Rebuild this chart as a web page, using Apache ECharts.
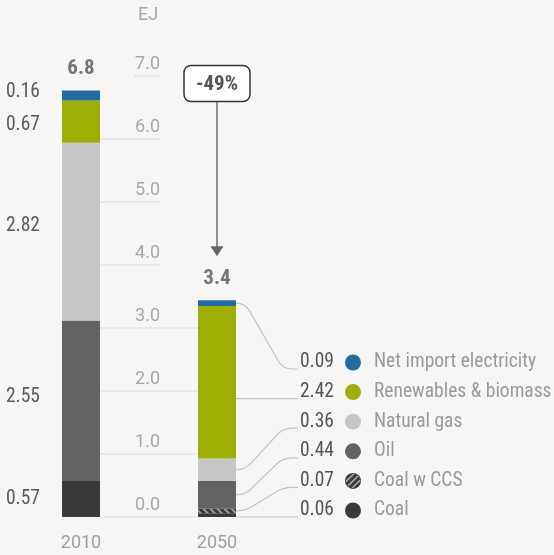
<!DOCTYPE html>
<html><head><meta charset="utf-8">
<script src="https://cdn.jsdelivr.net/npm/echarts@6/dist/echarts.min.js"></script>
<style>html,body{margin:0;padding:0;background:#f6f6f6}#c{width:554px;height:555px}</style>
</head><body><div id="c"></div>
<script>
// ---- data ----
const categories = ['2010', '2050'];
const seriesNames = ['Coal', 'Coal w CCS', 'Oil', 'Natural gas', 'Renewables & biomass', 'Net import electricity'];
const coal = [0.57, 0.06];
const coalCCS = [0, 0.07];
const oil = [2.55, 0.44];
const gas = [2.82, 0.36];
const renew = [0.67, 2.42];
const netImport = [0.16, 0.09];
const yTicks = [0, 1, 2, 3, 4, 5, 6, 7];
const changeLabel = '-49%';
const unitLabel = 'EJ';

// ---- style ----
const colors = ['#3a3a38', '#3a3a38', '#636363', '#c6c6c6', '#9dae05', '#236ba0'];
const labelOffsets = [[0, 0], [0, 0], [0, -4], [0, -5], [0, 3], [0, -3]];
const COND = '"Liberation Sans Narrow","Roboto Condensed","DejaVu Sans Condensed",Roboto,sans-serif';
const REG = 'Roboto,"Liberation Sans",sans-serif';
const BARW = 38;
const FS = 19.5;

const values = [coal, coalCCS, oil, gas, renew, netImport];
const totals = categories.map((c, i) => values.reduce((s, v) => s + v[i], 0));

const chart = echarts.init(document.getElementById('c'), null, {renderer: 'canvas'});

const barSeries = seriesNames.map((name, k) => {
  const itemStyle = {color: colors[k]};
  if (k === 1) {
    itemStyle.decal = {color: '#9a9a9a', symbol: 'rect', symbolSize: 1, dashArrayX: [1, 0], dashArrayY: [2, 3], rotation: Math.PI / 4};
  }
  return {
    name, type: 'bar', stack: 'total', barWidth: BARW, data: values[k], itemStyle, silent: true, z: 3,
    label: {
      show: true, position: 'left', distance: 22, offset: labelOffsets[k], color: '#5a5a5a', fontFamily: COND, fontSize: FS,
      formatter: p => (p.dataIndex === 0 && p.value > 0) ? p.value.toFixed(2) : ''
    }
  };
});

function connector(x0, y0, x3, y1) {
  if (Math.abs(y0 - y1) < 0.5) return `M${x0} ${y1}L${x3} ${y1}`;
  const xa = x0 + 9, xb = x0 + 47, r = 9;
  const dx = xb - xa, dy = y1 - y0, L = Math.hypot(dx, dy), ux = dx / L, uy = dy / L;
  return `M${x0} ${y0}L${xa - r} ${y0}Q${xa} ${y0} ${xa + ux * r} ${y0 + uy * r}` +
    `L${xb - ux * r} ${y1 - uy * r}Q${xb} ${y1} ${xb + r} ${y1}L${x3} ${y1}`;
}

const option = {
  backgroundColor: '#f6f6f6',
  animation: false,
  grid: {left: 13, right: 269, top: 76, bottom: 38, containLabel: false, outerBoundsMode: 'none'},
  xAxis: {
    type: 'category', data: categories,
    axisLine: {show: false}, axisTick: {show: false},
    axisLabel: {margin: 17, color: '#a0a0a0', fontFamily: REG, fontSize: 18}
  },
  yAxis: {
    type: 'value', min: 0, max: 7, interval: 1, position: 'left', offset: -147,
    axisLine: {show: false}, axisTick: {show: false}, splitLine: {show: false},
    axisLabel: {margin: 0, formatter: v => v.toFixed(1), color: '#a8a8a8', fontFamily: REG, fontSize: 18,
      verticalAlign: 'bottom', padding: [0, 0, 3, 0]}
  },
  graphic: [{type: 'text', x: 148, y: 15, style: {text: unitLabel, fill: '#a8a8a8', font: '18px ' + REG, align: 'center', verticalAlign: 'middle'}}],
  series: [
    ...barSeries,
    {
      type: 'custom', z: 1, clip: false, silent: true,
      data: yTicks.map(v => [0, v]),
      renderItem: (params, api) => {
        const v = api.value(1);
        const p0 = api.coord([0, v]), p1 = api.coord([1, v]);
        const left = v <= totals[0] ? p0[0] + BARW / 2 : p0[0] + 53;
        const right = v <= totals[1] ? p1[0] - BARW / 2 : p0[0] + 79;
        return {type: 'line', shape: {x1: left, y1: p0[1], x2: right, y2: p0[1]}, style: {stroke: '#e4e4e4', lineWidth: 1.5}};
      }
    },
    {
      type: 'scatter', data: totals.map((t, i) => [i, t]), symbol: 'circle', symbolSize: 1, silent: true,
      itemStyle: {color: 'rgba(0,0,0,0)'},
      label: {show: true, position: 'top', distance: 11, formatter: p => p.value[1].toFixed(1),
        fontFamily: COND, fontWeight: 'bold', fontSize: 21, color: '#555'}
    },
    {
      type: 'custom', z: 4, clip: false, silent: true,
      data: seriesNames.map((n, k) => [1, k]),
      renderItem: (params, api) => {
        const k = params.dataIndex;
        let bottom = 0;
        for (let j = 0; j < k; j++) bottom += values[j][1];
        const top = bottom + values[k][1];
        const pB = api.coord([1, bottom]), pT = api.coord([1, top]);
        const xr = pB[0] + BARW / 2;
        const y0 = api.coord([1, 0])[1];
        const ly = y0 - k * 29.6;
        const sy = (ly <= pB[1] + 0.5 && ly >= pT[1] - 0.5) ? ly : (pB[1] + pT[1]) / 2;
        const cy = ly - 6.5;
        const children = [
          {type: 'path', shape: {pathData: connector(xr, sy, xr + 62, ly)}, style: {stroke: '#c4c4c4', lineWidth: 1.2, fill: null}},
          {type: 'text', x: xr + 98, y: cy, style: {text: values[k][1].toFixed(2), fill: '#555', font: FS + 'px ' + COND, align: 'right', verticalAlign: 'middle'}},
          {type: 'circle', shape: {cx: xr + 117, cy: cy, r: 8}, style: {fill: colors[k]}},
          {type: 'text', x: xr + 138, y: cy, style: {text: seriesNames[k], fill: '#9a9a9a', font: FS + 'px ' + COND, align: 'left', verticalAlign: 'middle'}}
        ];
        if (k === 1) {
          const cx = xr + 117, r = 8;
          [-4.5, 0, 4.5].forEach(d => {
            const h = Math.sqrt(r * r - d * d) - 1;
            const mx = cx + d / Math.SQRT2, my = cy + d / Math.SQRT2;
            children.push({type: 'line', shape: {x1: mx - h / Math.SQRT2, y1: my + h / Math.SQRT2, x2: mx + h / Math.SQRT2, y2: my - h / Math.SQRT2},
              style: {stroke: '#a8a8a8', lineWidth: 1.6}});
          });
        }
        return {type: 'group', children};
      }
    },
    {
      type: 'custom', z: 4, clip: false, silent: true,
      data: [[1, 0]],
      renderItem: (params, api) => {
        const x = api.coord([1, 0])[0];
        const yA = api.coord([0, totals[0]])[1];
        const yB = api.coord([1, totals[1]])[1];
        const yc = yA - 7;
        const tip = yB - 44;
        return {type: 'group', children: [
          {type: 'line', shape: {x1: x, y1: yc + 18, x2: x, y2: tip - 9}, style: {stroke: '#777', lineWidth: 1.6}},
          {type: 'polygon', shape: {points: [[x - 6.5, tip - 10], [x + 6.5, tip - 10], [x, tip]]}, style: {fill: '#666'}},
          {type: 'rect', shape: {x: x - 33, y: yc - 18, width: 66, height: 36, r: 7}, style: {fill: '#fff', stroke: '#333', lineWidth: 1.5}},
          {type: 'text', x: x, y: yc + 1, style: {text: changeLabel, fill: '#555', font: 'bold 21px ' + COND, align: 'center', verticalAlign: 'middle'}}
        ]};
      }
    }
  ]
};
chart.setOption(option);
</script>
</body></html>
